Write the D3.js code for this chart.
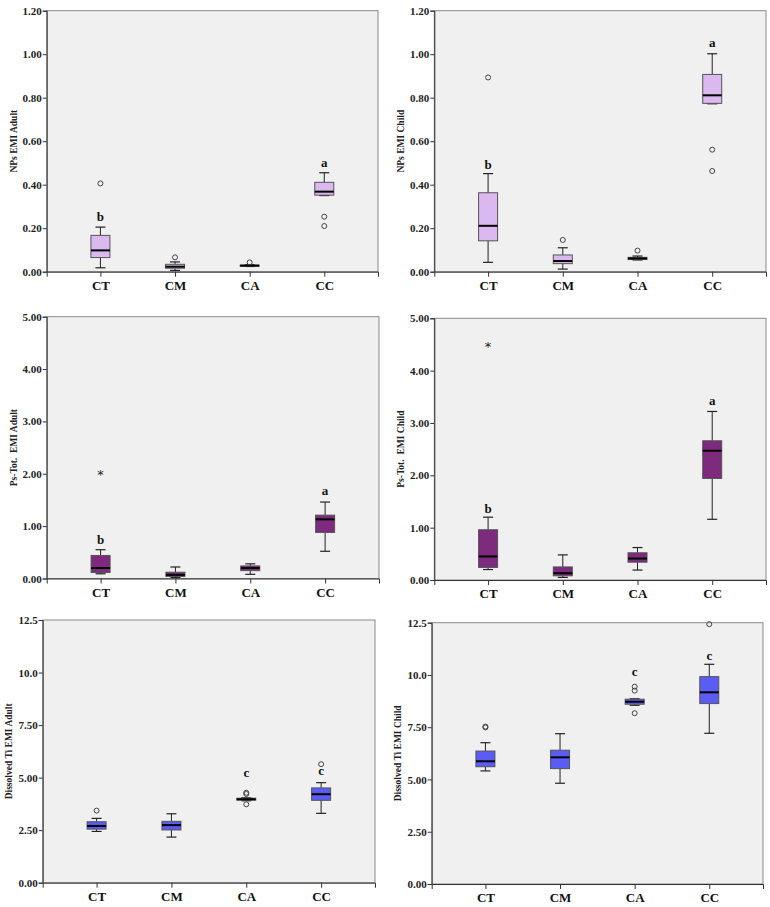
<!DOCTYPE html>
<html>
<head>
<meta charset="utf-8">
<script src="https://cdn.jsdelivr.net/npm/d3@7"></script>
<style>
  body { margin: 0; background: #fff; }
  svg text { font-family: "Liberation Serif", "Times New Roman", serif; font-weight: bold; }
</style>
</head>
<body>
<svg id="chart" width="770" height="907"></svg>
<script>
/* ── Data ─────────────────────────────────────────────────────── */
const categories = ["CT", "CM", "CA", "CC"];

// each box: [low whisker, Q1, median, Q3, high whisker]
const npsAdultBoxes    = [[0.018, 0.065, 0.098, 0.167, 0.205], [0.006, 0.016, 0.023, 0.034, 0.045], [0.024, 0.026, 0.028, 0.030, 0.032], [0.350, 0.352, 0.368, 0.411, 0.455]];
const npsAdultOutliers = [["CT", 0.406], ["CM", 0.066], ["CA", 0.043], ["CC", 0.253], ["CC", 0.210]];
const npsAdultLetters  = [["CT", "b", 0.250], ["CC", "a", 0.498]];

const npsChildBoxes    = [[0.043, 0.142, 0.211, 0.363, 0.451], [0.012, 0.037, 0.049, 0.077, 0.110], [0.054, 0.056, 0.061, 0.066, 0.072], [0.772, 0.774, 0.811, 0.907, 1.002]];
const npsChildOutliers = [["CT", 0.893], ["CM", 0.146], ["CA", 0.097], ["CC", 0.561], ["CC", 0.463]];
const npsChildLetters  = [["CT", "b", 0.490], ["CC", "a", 1.050]];

const psAdultBoxes    = [[0.09, 0.115, 0.20, 0.44, 0.55], [0.02, 0.04, 0.07, 0.12, 0.22], [0.08, 0.15, 0.20, 0.24, 0.28], [0.52, 0.88, 1.13, 1.21, 1.46]];
const psAdultStars    = [["CT", 2.05]];
const psAdultLetters  = [["CT", "b", 0.73], ["CC", "a", 1.66]];

const psChildBoxes    = [[0.20, 0.24, 0.45, 0.96, 1.20], [0.05, 0.08, 0.13, 0.25, 0.48], [0.19, 0.34, 0.41, 0.52, 0.62], [1.16, 1.94, 2.47, 2.66, 3.22]];
const psChildStars    = [["CT", 4.53]];
const psChildLetters  = [["CT", "b", 1.35], ["CC", "a", 3.42]];

const tiAdultBoxes    = [[2.44, 2.55, 2.70, 2.90, 3.06], [2.17, 2.51, 2.74, 2.92, 3.28], [3.90, 3.93, 3.97, 4.02, 4.04], [3.30, 3.92, 4.21, 4.51, 4.76]];
const tiAdultOutliers = [["CT", 3.43], ["CA", 4.28], ["CA", 4.22], ["CA", 3.73], ["CC", 5.64]];
const tiAdultLetters  = [["CA", "c", 5.21], ["CC", "c", 5.29]];

const tiChildBoxes    = [[5.41, 5.61, 5.87, 6.36, 6.76], [4.82, 5.52, 6.06, 6.40, 7.19], [8.55, 8.60, 8.72, 8.84, 8.86], [7.21, 8.63, 9.17, 9.92, 10.51]];
const tiChildOutliers = [["CT", 7.53], ["CT", 7.49], ["CA", 9.44], ["CA", 9.25], ["CA", 8.17], ["CC", 12.43]];
const tiChildLetters  = [["CA", "c", 10.16], ["CC", "c", 10.88]];

const npsTicks = [0, 0.2, 0.4, 0.6, 0.8, 1.0, 1.2];
const psTicks  = [0, 1, 2, 3, 4, 5];
const tiTicks  = [0, 2.5, 5, 7.5, 10, 12.5];
const tiTickLabels = ["0.00", "2.50", "5.00", "7.50", "10.0", "12.5"];

/* ── Panels ───────────────────────────────────────────────────── */
const fmt2 = d3.format(".2f");
const panels = [
  { title: "NPs EMI Adult", boxes: npsAdultBoxes, outliers: npsAdultOutliers, stars: [], letters: npsAdultLetters,
    max: 1.2, ticks: npsTicks, fmt: fmt2, fill: "#dbb8ef", x0: 46.7, x1: 378, y0: 10.7, y1: 271.7, tx: 16.5 },
  { title: "NPs EMI Child", boxes: npsChildBoxes, outliers: npsChildOutliers, stars: [], letters: npsChildLetters,
    max: 1.2, ticks: npsTicks, fmt: fmt2, fill: "#dbb8ef", x0: 434.3, x1: 766, y0: 10.7, y1: 271.7, tx: 404 },
  { title: "Ps-Tot.  EMI Adult", boxes: psAdultBoxes, outliers: [], stars: psAdultStars, letters: psAdultLetters,
    max: 5, ticks: psTicks, fmt: fmt2, fill: "#7d2a7f", x0: 46.7, x1: 379, y0: 316.7, y1: 578.5, tx: 16.5 },
  { title: "Ps-Tot.  EMI Child", boxes: psChildBoxes, outliers: [], stars: psChildStars, letters: psChildLetters,
    max: 5, ticks: psTicks, fmt: fmt2, fill: "#7d2a7f", x0: 434.3, x1: 766, y0: 318.3, y1: 580, tx: 403.5 },
  { title: "Dissolved Ti EMI Adult", boxes: tiAdultBoxes, outliers: tiAdultOutliers, stars: [], letters: tiAdultLetters,
    max: 12.5, ticks: tiTicks, fmt: (d, i) => tiTickLabels[i], fill: "#5b5bf5", x0: 42.7, x1: 375, y0: 620, y1: 882.7, tx: 12 },
  { title: "Dissolved Ti EMI Child", boxes: tiChildBoxes, outliers: tiChildOutliers, stars: [], letters: tiChildLetters,
    max: 12.5, ticks: tiTicks, fmt: (d, i) => tiTickLabels[i], fill: "#5b5bf5", x0: 431.7, x1: 763, y0: 622.7, y1: 884, tx: 401 }
];

const svg = d3.select("#chart");
const boxW = 19, capW = 10;

panels.forEach(p => {
  const x = d3.scalePoint().domain(categories).range([p.x0, p.x1]).padding(0.72);
  const y = d3.scaleLinear().domain([0, p.max]).range([p.y1, p.y0]);
  const g = svg.append("g");

  // plot background + frame
  g.append("rect")
    .attr("x", p.x0).attr("y", p.y0)
    .attr("width", p.x1 - p.x0).attr("height", p.y1 - p.y0)
    .attr("fill", "#f0f0f0").attr("stroke", "#8a8a8a").attr("stroke-width", 1);

  // axes
  const yAxis = g.append("g").attr("transform", `translate(${p.x0},0)`)
    .call(d3.axisLeft(y).tickValues(p.ticks).tickFormat(p.fmt).tickSize(4).tickPadding(1));
  yAxis.selectAll("text").attr("font-size", 11).attr("fill", "#222");

  const xAxis = g.append("g").attr("transform", `translate(0,${p.y1})`)
    .call(d3.axisBottom(x).tickSize(5).tickPadding(4));
  xAxis.selectAll("text").attr("font-size", 13).attr("fill", "#111");

  [yAxis, xAxis].forEach(a => {
    a.select(".domain").attr("stroke", "#333");
    a.selectAll(".tick line").attr("stroke", "#333");
  });

  // y title
  g.append("text")
    .attr("transform", `translate(${p.tx},${(p.y0 + p.y1) / 2}) rotate(-90)`)
    .attr("text-anchor", "middle")
    .attr("font-size", 9.5)
    .style("white-space", "pre")
    .attr("fill", "#222")
    .text(p.title);

  // boxes
  const bx = g.selectAll("g.box").data(p.boxes).join("g").attr("class", "box")
    .attr("transform", (d, i) => `translate(${x(categories[i])},0)`);

  bx.append("line").attr("y1", d => y(d[0])).attr("y2", d => y(d[1]))
    .attr("stroke", "#222").attr("stroke-width", 1);
  bx.append("line").attr("y1", d => y(d[3])).attr("y2", d => y(d[4]))
    .attr("stroke", "#222").attr("stroke-width", 1);
  bx.append("line").attr("x1", -capW / 2).attr("x2", capW / 2)
    .attr("y1", d => y(d[0])).attr("y2", d => y(d[0])).attr("stroke", "#222").attr("stroke-width", 1.2);
  bx.append("line").attr("x1", -capW / 2).attr("x2", capW / 2)
    .attr("y1", d => y(d[4])).attr("y2", d => y(d[4])).attr("stroke", "#222").attr("stroke-width", 1.2);
  bx.append("rect")
    .attr("x", -boxW / 2).attr("width", boxW)
    .attr("y", d => y(d[3])).attr("height", d => Math.max(1, y(d[1]) - y(d[3])))
    .attr("fill", p.fill).attr("stroke", "#555").attr("stroke-width", 1);
  bx.append("line").attr("x1", -boxW / 2).attr("x2", boxW / 2)
    .attr("y1", d => y(d[2])).attr("y2", d => y(d[2]))
    .attr("stroke", "#000").attr("stroke-width", 2);

  // outliers
  g.selectAll("circle.out").data(p.outliers).join("circle").attr("class", "out")
    .attr("cx", d => x(d[0])).attr("cy", d => y(d[1])).attr("r", 2.5)
    .attr("fill", "none").attr("stroke", "#444").attr("stroke-width", 1);

  // extremes
  g.selectAll("text.star").data(p.stars).join("text").attr("class", "star")
    .attr("x", d => x(d[0])).attr("y", d => y(d[1])).attr("dy", "0.6em")
    .attr("text-anchor", "middle").attr("font-size", 13).attr("fill", "#222")
    .style("font-family", "DejaVu Sans, sans-serif").style("font-weight", "normal")
    .text("*");

  // significance letters
  g.selectAll("text.letter").data(p.letters).join("text").attr("class", "letter")
    .attr("x", d => x(d[0])).attr("y", d => y(d[2])).attr("dy", "0.3em")
    .attr("text-anchor", "middle").attr("font-size", 13).attr("fill", "#111")
    .text(d => d[1]);
});
</script>
</body>
</html>
